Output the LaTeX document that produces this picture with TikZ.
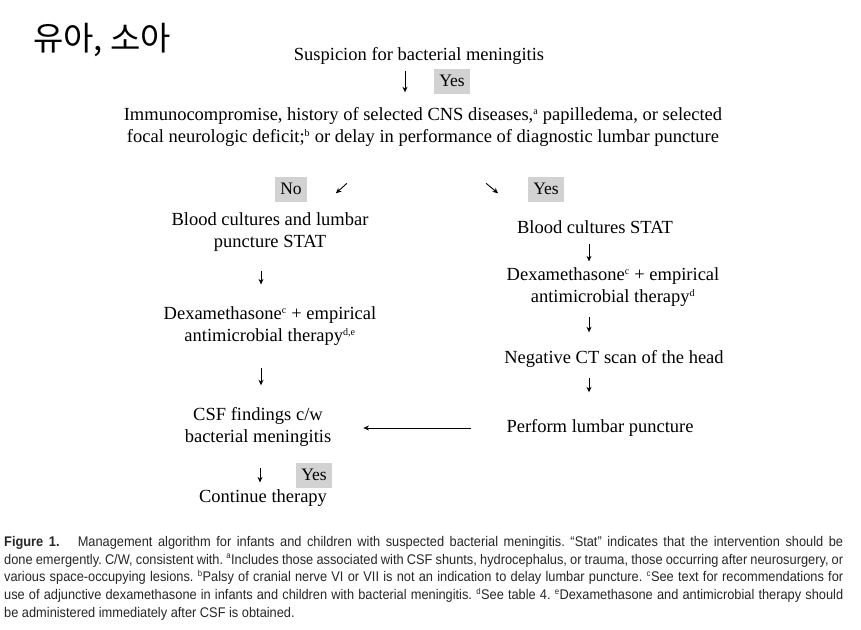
\documentclass[tikz,border=0pt]{standalone}
\usepackage{fontspec}
\setmainfont{Liberation Serif}
\newfontfamily\kofont{Noto Sans CJK KR}
\newfontfamily\capfont[FakeStretch=0.915]{Liberation Sans}
\usetikzlibrary{arrows.meta,positioning}

\newcommand\fnmark[1]{\textsuperscript{\fontsize{10}{10}\selectfont #1}}
\newcommand\capmark[1]{\textsuperscript{\fontsize{8.5}{8.5}\selectfont #1}}

\tikzset{
  txt/.style={align=center, inner sep=0pt, font=\fontsize{18.5}{22}\selectfont},
  ans/.style={fill=gray!35, inner xsep=5pt, inner ysep=0pt, minimum height=25pt,
              font=\fontsize{17.5}{20}\selectfont},
  arr/.style={-{Stealth[length=5.5pt,width=5pt]}, line width=0.9pt},
}

\begin{document}
\begin{tikzpicture}[x=1pt,y=-1pt]
    \useasboundingbox (0,0) rectangle (861,629);
    \node[anchor=west, inner sep=0pt, font=\kofont\fontsize{33}{35}\selectfont] (title) at (33,40) {유아, 소아};
    % top of the algorithm
    \node[txt] (susp) at (419,56) {Suspicion for bacterial meningitis};
    \node[ans] (yes1) at (452,81) {Yes};
    \node[txt] (immuno) at (423,127) {Immunocompromise, history of selected CNS diseases,\fnmark{a} papilledema, or selected\\ focal neurologic deficit;\fnmark{b} or delay in performance of diagnostic lumbar puncture};
    \draw[arr, shorten <=6pt, shorten >=15pt] ([shift={(-14,0)}]susp.south) -- ([shift={(-18,0)}]immuno.north);
    \node[ans] (no) at (291,189) {No};
    \node[ans] (yes2) at (546,189) {Yes};
    \draw[arr] ([shift={(40,7)}]no.north east) -- ++(-11,10);
    \draw[arr] ([shift={(-42,7)}]yes2.north west) -- ++(12,10);
    % left branch
    \node[txt] (bloodl) at (270,232) {Blood cultures and lumbar\\ puncture STAT};
    \node[txt] (dexl) at (270,326) {Dexamethasone\fnmark{c} + empirical\\ antimicrobial therapy\fnmark{d,e}};
    \node[txt] (csf) at (258,427) {CSF findings c/w\\ bacterial meningitis};
    \node[txt] (cont) at (263,498) {Continue therapy};
    \node[ans] (yes3) at (314,475) {Yes};
    \draw[arr, shorten <=19pt, shorten >=22pt] ([shift={(-9,0)}]bloodl.south) -- ([shift={(-9,0)}]dexl.north);
    \draw[arr, shorten <=22pt, shorten >=22pt] ([shift={(-9,0)}]dexl.south) -- ([shift={(3,0)}]csf.north);
    \draw[arr, shorten <=21pt, shorten >=7pt] ([shift={(2,0)}]csf.south) -- ([shift={(-3,0)}]cont.north);
    % right branch
    \node[txt] (bloodr) at (595,227) {Blood cultures STAT};
    \node[txt] (dexr) at (613,287) {Dexamethasone\fnmark{c} + empirical\\ antimicrobial therapy\fnmark{d}};
    \node[txt] (neg) at (614,359) {Negative CT scan of the head};
    \node[txt] (perf) at (600,428) {Perform lumbar puncture};
    \draw[arr, shorten <=10pt, shorten >=6pt] ([shift={(-6,0)}]bloodr.south) -- ([shift={(-24,0)}]dexr.north);
    \draw[arr, shorten <=10pt, shorten >=18pt] ([shift={(-24,0)}]dexr.south) -- ([shift={(-25,0)}]neg.north);
    \draw[arr, shorten <=10pt, shorten >=27pt] ([shift={(-25,0)}]neg.south) -- ([shift={(-11,0)}]perf.north);
    \draw[arr, line width=0.6pt, shorten <=35pt, shorten >=32pt] (perf.west) -- (perf.west -| csf.east);
    % caption
    \node[anchor=north west, inner sep=0pt, text width=839pt, align=justify,
          font=\capfont\fontsize{14}{17.8}\selectfont, text=black!85] (cap) at (4,536)
    {\frenchspacing\textbf{Figure 1.}\hspace{1.3em}Management algorithm for infants and children with suspected bacterial meningitis. “Stat” indicates that the intervention should be\linebreak
     done emergently. C/W, consistent with. \capmark{a}Includes those associated with CSF shunts, hydrocephalus, or trauma, those occurring after neurosurgery, or\linebreak
     various space-occupying lesions. \capmark{b}Palsy of cranial nerve VI or VII is not an indication to delay lumbar puncture. \capmark{c}See text for recommendations for\linebreak
     use of adjunctive dexamethasone in infants and children with bacterial meningitis. \capmark{d}See table 4. \capmark{e}Dexamethasone and antimicrobial therapy should\linebreak
     be administered immediately after CSF is obtained.};
\end{tikzpicture}
\end{document}
